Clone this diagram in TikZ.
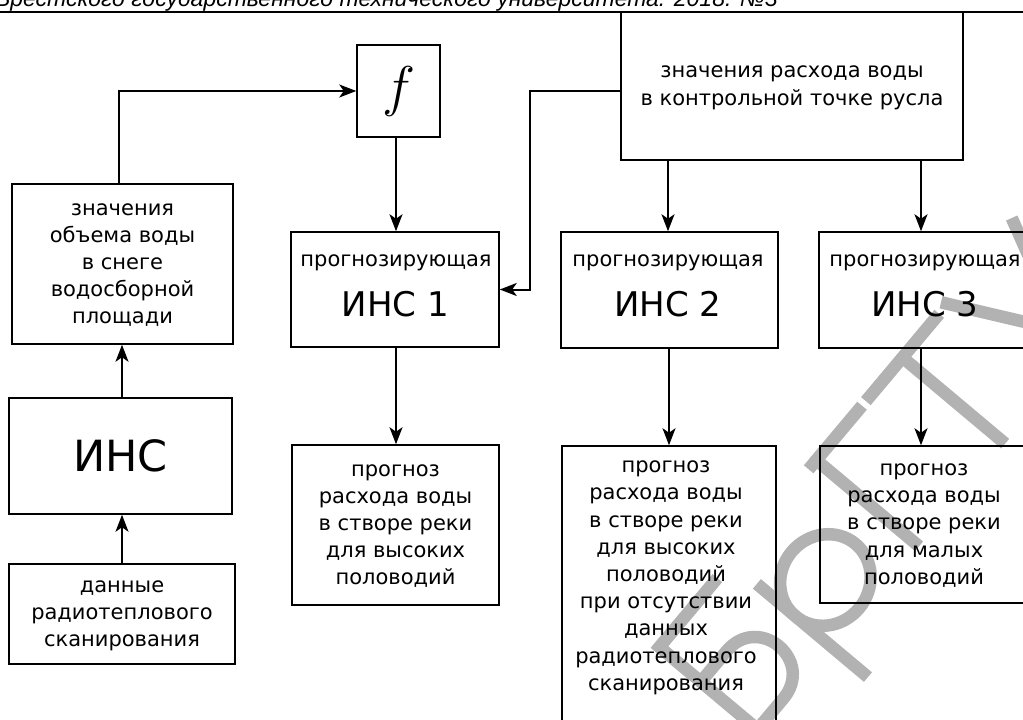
\documentclass[tikz,border=0pt]{standalone}
\usepackage{fontspec}
\usepackage{graphicx}
\setmainfont{DejaVu Sans}
\newfontfamily\hdrfont{Liberation Sans}
\usetikzlibrary{arrows.meta,calc}
\newcommand\boxfont{\fontsize{21}{27.2}\selectfont}
\begin{document}
\begin{tikzpicture}[x=1pt,y=-1pt,
  box/.style={draw,line width=1.5pt,inner sep=0pt,align=center,font=\boxfont},
  txt/.style={inner sep=0pt,align=center,font=\boxfont},
  big/.style={inner sep=0pt,font=\fontsize{34}{40}\selectfont},
  arr/.style={line width=2pt,-{Stealth[length=17pt,width=13pt,inset=4.5pt]}},
  wm/.style={line width=12.5pt,black!30}]
\useasboundingbox (0,0) rectangle (1023,720);
\clip (0,0) rectangle (1023,720);
% watermark
\begin{scope}[shift={(910,557)},x={(0.643pt,0.766pt)},y={(-0.766pt,0.643pt)},wm]
  \draw (-230,0) -- (-230,140);
  \draw (-236,134) -- (-140,134);
  \draw (-230,80) -- (-190,80) .. controls (-140,80) and (-140,6) .. (-190,6) -- (-230,6);
  \draw (-119,-45) -- (-119,100);
  \draw (-72,50) ellipse [x radius=47, y radius=44];
  \draw (14,0) -- (14,140);
  \draw (2,134) -- (85,134);
  \draw (91,134) -- (205,134);
  \draw (148,0) -- (148,134);
  \draw (215,140) -- (268,35);
  \draw (325,140) -- (235,-45);
\end{scope}
% header
\node[anchor=base east,inner sep=0pt,font=\hdrfont\itshape\fontsize{23}{26}\selectfont] (hdr) at (778,6.7)
  {Вестник Брестского государственного технического университета. 2018. №3};
\draw[line width=2.3pt] (0,12) -- (1023,12);
% boxes
\node[box,minimum width=83,minimum height=92] (f) at (398.5,91) {\scalebox{2.7}{$f$}};
\node[box,minimum width=221,minimum height=160] (snow) at (122.5,264)
  {\strut значения\\\strut объема воды\\\strut в снеге\\\strut водосборной\\\strut площади};
\node[box,minimum width=223,minimum height=116,font=\fontsize{43}{50}\selectfont] (ann) at (120.5,456) {ИНС};
\node[box,minimum width=226,minimum height=100] (data) at (122,614)
  {\strut данные\\\strut радиотеплового\\\strut сканирования};
\node[box,minimum width=208,minimum height=115] (ins1) at (395,289.5) {};
\node[txt,anchor=base] (ins1a) at (396,266) {прогнозирующая};
\node[big,anchor=base] (ins1b) at (395.5,316) {ИНС 1};
\node[box,minimum width=207,minimum height=160] (p1) at (395.5,525)
  {\strut прогноз\\\strut расхода воды\\\strut в створе реки\\\strut для высоких\\\strut половодий};
\node[box,minimum width=342,minimum height=148] (Q) at (792,86)
  {\strut значения расхода воды\\\strut в контрольной точке русла};
\node[box,minimum width=217,minimum height=116] (ins2) at (669.5,290) {};
\node[txt,anchor=base] (ins2a) at (668,266) {прогнозирующая};
\node[big,anchor=base] (ins2b) at (668,316) {ИНС 2};
\node[box,minimum width=214,minimum height=116] (ins3) at (926,290) {};
\node[txt,anchor=base] (ins3a) at (925,266) {прогнозирующая};
\node[big,anchor=base] (ins3b) at (925,316) {ИНС 3};
\node[box,minimum width=214,minimum height=300] (p2) at (669,596) {};
\node[txt] (p2t) at (666,576)
  {\strut прогноз\\\strut расхода воды\\\strut в створе реки\\\strut для высоких\\\strut половодий\\\strut при отсутствии\\\strut данных\\\strut радиотеплового\\\strut сканирования};
\node[box,minimum width=208,minimum height=157] (p3) at (924,524.5)
  {\strut прогноз\\\strut расхода воды\\\strut в створе реки\\\strut для малых\\\strut половодий};
% connectors
\draw[arr] ([xshift=-3.5pt]snow.north) |- (f.west);
\draw[arr] ([xshift=1.5pt]ann.north) -- ([xshift=1.5pt]ann.north |- snow.south);
\draw[arr] (data.north) -- (data.north |- ann.south);
\draw[arr] ([xshift=-2.5pt]f.south) -- ([xshift=-2.5pt]f.south |- ins1.north);
\draw[arr] ([xshift=1pt]ins1.south) -- ([xshift=1pt]ins1.south |- p1.north);
\draw[arr] ([yshift=-5pt]Q.west) -- ++(-90,0) |- (ins1.east);
\draw[arr] ([xshift=-1.5pt]ins2.north |- Q.south) -- ([xshift=-1.5pt]ins2.north);
\draw[arr] ([xshift=-0.5pt]ins2.south) -- ([xshift=-0.5pt]ins2.south |- p2.north);
\draw[arr] ([xshift=-5pt]ins3.north |- Q.south) -- ([xshift=-5pt]ins3.north);
\draw[arr] ([xshift=-5pt]ins3.south) -- ([xshift=-5pt]ins3.south |- p3.north);
\end{tikzpicture}
\end{document}
